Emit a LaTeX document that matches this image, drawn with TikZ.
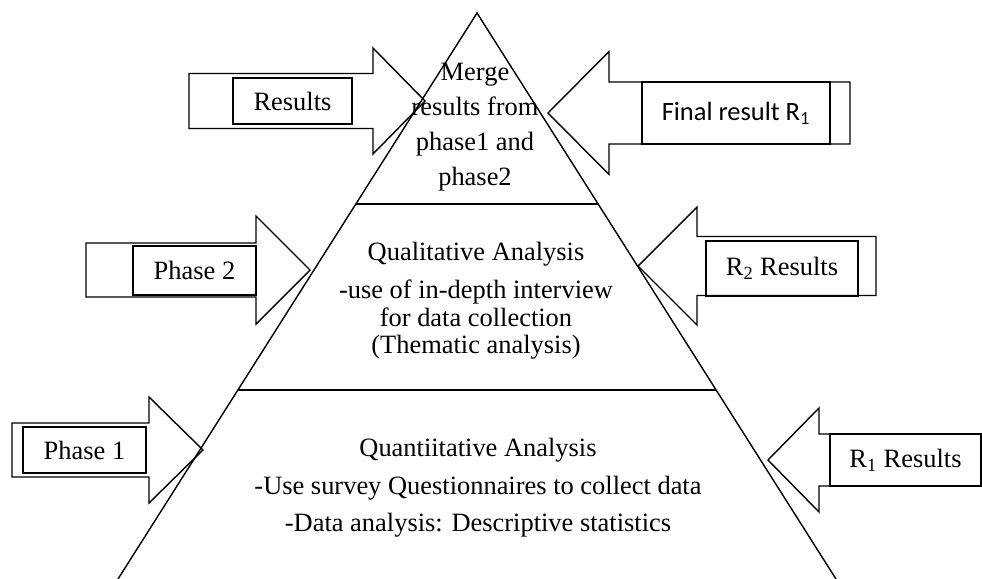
\documentclass[tikz,border=0pt]{standalone}
\usepackage{fontspec}
\setmainfont{Liberation Serif}
\newfontfamily\calibri{Carlito}
\usetikzlibrary{calc}

\begin{document}
\begin{tikzpicture}[x=0.025cm, y=-0.025cm,
    txtbox/.style={draw, line width=1.1pt, inner sep=0pt, font=\fontsize{18.8}{22}\selectfont},
    layer/.style={align=center, inner sep=0pt}]
    \useasboundingbox (0,0) rectangle (982,579);

    % Pyramid
    \coordinate (top) at (477,13);
    \coordinate (bl) at (118,579);
    \coordinate (br) at (836,579);
    \draw[line width=1pt] (bl) -- (top) -- (br);
    \draw[line width=1pt] ($(top)!0.3375!(bl)$) -- ($(top)!0.3375!(br)$);
    \draw[line width=1pt] ($(top)!0.666!(bl)$) -- ($(top)!0.666!(br)$);

    % Block arrows: shaft end / head back / tip / centre / half shaft / half head
    \foreach \xa/\xb/\xt/\yc/\s/\h in {
        189/373/425/101/27.5/53,
        850/609/548/113/31/61.5,
        86/256/310/270/27/54,
        876/697/638/266/29.5/59,
        12/149/203/450/27/53,
        981/819/768/460/26/52}
    {
        \draw[line width=1pt] (\xa,\yc-\s) -- (\xb,\yc-\s) -- (\xb,\yc-\h) -- (\xt,\yc)
            -- (\xb,\yc+\h) -- (\xb,\yc+\s) -- (\xa,\yc+\s) -- cycle;
    }

    % Labels in the arrows
    \node[txtbox, minimum width=2.975cm, minimum height=1.15cm] (res) at (292.5,101) {Results};
    \node[txtbox, minimum width=4.7cm, minimum height=1.55cm] (fin) at (736,113) {\calibri Final result R\textsubscript{1}};
    \node[txtbox, minimum width=3.075cm, minimum height=1.225cm] (ph2) at (194.5,270.5) {Phase 2};
    \node[txtbox, minimum width=3.8cm, minimum height=1.375cm] (rtwo) at (782,268.5) {R\textsubscript{2} Results};
    \node[txtbox, minimum width=3.075cm, minimum height=1.15cm] (ph1) at (84.5,450) {Phase 1};
    \node[txtbox, minimum width=3.775cm, minimum height=1.3cm] (rone) at (905.5,460) {R\textsubscript{1} Results};

    % Layers of the pyramid
    \node[layer, font=\fontsize{18.8}{24.9}\selectfont] (merge) at (475,127)
        {Merge\\results from\\phase1 and\\phase2};
    \node[layer, font=\fontsize{18.8}{19.6}\selectfont] (qual) at (476,301)
        {Qualitative Analysis\\[0.26cm]-use of in-depth interview\\for data collection\\(Thematic analysis)};
    \node[layer, font=\fontsize{18.8}{26.7}\selectfont] (quant) at (478,488)
        {Quantiitative Analysis\\-Use survey Questionnaires to collect data\\-Data analysis: Descriptive statistics};
\end{tikzpicture}
\end{document}
